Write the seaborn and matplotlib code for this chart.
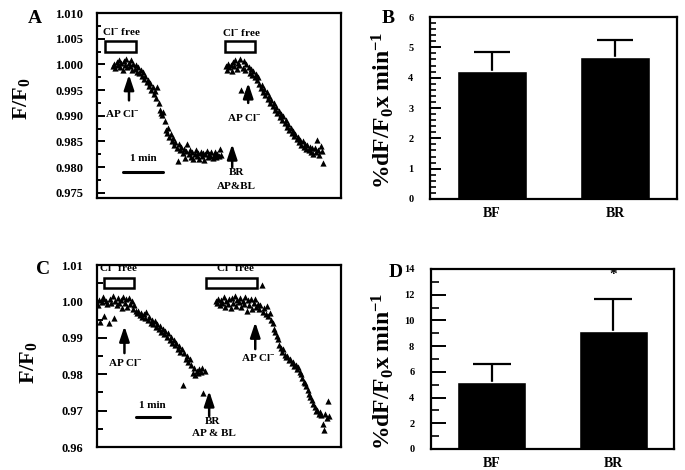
import numpy as np
import pandas as pd
import matplotlib
matplotlib.use("Agg")
import matplotlib.pyplot as plt
import matplotlib.patches as patches
from matplotlib.ticker import MultipleLocator
import seaborn as sns

# ---- panel A traces (time in min, F/F0) ----
a1_t = [0.40, 0.43, 0.46, 0.49, 0.52, 0.55, 0.58, 0.61, 0.64, 0.67,
        0.70, 0.73, 0.76, 0.79, 0.82, 0.85, 0.88, 0.91, 0.94, 0.97,
        1.00, 1.03, 1.06, 1.09, 1.12, 1.15, 1.18, 1.21, 1.24, 1.27,
        1.30, 1.33, 1.36, 1.39, 1.42, 1.45, 1.48, 1.51, 1.54, 1.57,
        1.60, 1.63, 1.66, 1.69, 1.72, 1.75, 1.78, 1.81, 1.84, 1.87,
        1.90, 1.93, 1.96, 1.99, 2.02, 2.05, 2.08, 2.11, 2.14, 2.17,
        2.20, 2.23, 2.26, 2.29, 2.32, 2.35, 2.38, 2.41, 2.44, 2.47,
        2.50, 2.53, 2.56, 2.59, 2.62, 2.65, 2.68, 2.71, 2.74, 2.77,
        2.80, 2.83, 2.86, 2.89, 2.92, 2.95, 2.98, 3.01, 3.04, 3.07,
        3.10]
a1_y = [0.9996, 1.0001, 0.9993, 1.0004, 0.9998, 1.0008, 0.9995, 1.0002, 0.9990, 1.0006,
        0.9999, 1.0011, 0.9994, 1.0003, 0.9997, 1.0009, 0.9989, 1.0001, 0.9992, 0.9998,
        0.9986, 0.9994, 0.9983, 0.9990, 0.9978, 0.9985, 0.9972, 0.9977, 0.9965, 0.9970,
        0.9958, 0.9963, 0.9950, 0.9956, 0.9943, 0.9949, 0.9935, 0.9956, 0.9925, 0.9912,
        0.9906, 0.9902, 0.9908, 0.9890, 0.9872, 0.9866, 0.9876, 0.9858, 0.9864, 0.9851,
        0.9857, 0.9843, 0.9849, 0.9838, 0.9812, 0.9845, 0.9833, 0.9840, 0.9828, 0.9836,
        0.9818, 0.9831, 0.9846, 0.9825, 0.9834, 0.9819, 0.9829, 0.9815, 0.9826, 0.9833,
        0.9821, 0.9828, 0.9816, 0.9830, 0.9822, 0.9827, 0.9814, 0.9825, 0.9831, 0.9819,
        0.9826, 0.9822, 0.9829, 0.9817, 0.9824, 0.9830, 0.9820, 0.9826, 0.9821, 0.9836,
        0.9823]
a2_t = [3.22, 3.25, 3.28, 3.31, 3.34, 3.37, 3.40, 3.43, 3.46, 3.49,
        3.52, 3.55, 3.58, 3.61, 3.64, 3.67, 3.70, 3.73, 3.76, 3.79,
        3.82, 3.85, 3.88, 3.91, 3.94, 3.97, 4.00, 4.03, 4.06, 4.09,
        4.12, 4.15, 4.18, 4.21, 4.24, 4.27, 4.30, 4.33, 4.36, 4.39,
        4.42, 4.45, 4.48, 4.51, 4.54, 4.57, 4.60, 4.63, 4.66, 4.69,
        4.72, 4.75, 4.78, 4.81, 4.84, 4.87, 4.90, 4.93, 4.96, 4.99,
        5.02, 5.05, 5.08, 5.11, 5.14, 5.17, 5.20, 5.23, 5.26, 5.29,
        5.32, 5.35, 5.38, 5.41, 5.44, 5.47, 5.50, 5.53, 5.56, 5.59,
        5.62, 5.65]
a2_y = [0.9996, 0.9990, 1.0001, 0.9994, 0.9999, 0.9987, 1.0004, 0.9996, 1.0009, 0.9992,
        1.0002, 0.9998, 1.0011, 0.9951, 0.9993, 1.0006, 0.9989, 1.0000, 0.9950, 0.9994,
        0.9984, 0.9991, 0.9980, 0.9987, 0.9975, 0.9982, 0.9969, 0.9976, 0.9962, 0.9955,
        0.9960, 0.9947, 0.9953, 0.9940, 0.9946, 0.9932, 0.9938, 0.9925, 0.9931, 0.9919,
        0.9924, 0.9911, 0.9917, 0.9905, 0.9910, 0.9898, 0.9903, 0.9892, 0.9899, 0.9886,
        0.9891, 0.9879, 0.9884, 0.9872, 0.9877, 0.9866, 0.9870, 0.9860, 0.9864, 0.9855,
        0.9858, 0.9849, 0.9853, 0.9844, 0.9851, 0.9840, 0.9846, 0.9836, 0.9843, 0.9833,
        0.9840, 0.9829, 0.9837, 0.9826, 0.9838, 0.9830, 0.9852, 0.9833, 0.9824, 0.9841,
        0.9832, 0.9808]

# ---- panel C traces ----
c1_t = [0.00, 0.04, 0.08, 0.12, 0.16, 0.20, 0.24, 0.28, 0.32, 0.36,
        0.40, 0.44, 0.48, 0.52, 0.56, 0.60, 0.64, 0.68, 0.72, 0.76,
        0.80, 0.84, 0.88, 0.92, 0.96, 1.00, 1.04, 1.08, 1.12, 1.16,
        1.20, 1.24, 1.28, 1.32, 1.36, 1.40, 1.44, 1.48, 1.52, 1.56,
        1.60, 1.64, 1.68, 1.72, 1.76, 1.80, 1.84, 1.88, 1.92, 1.96,
        2.00, 2.04, 2.08, 2.12, 2.16, 2.20, 2.24, 2.28, 2.32, 2.36,
        2.40, 2.44, 2.48, 2.52, 2.56, 2.60, 2.64, 2.68, 2.72, 2.76,
        2.80, 2.84, 2.88, 2.92, 2.96, 3.00, 3.04, 3.08, 3.12, 3.16]
c1_y = [0.9990, 1.0005, 0.9943, 0.9998, 1.0012, 0.9960, 1.0002, 0.9992, 0.9940, 1.0008,
        0.9996, 1.0015, 0.9955, 1.0001, 0.9989, 1.0010, 0.9995, 1.0004, 0.9983, 1.0013,
        0.9997, 1.0006, 0.9986, 1.0009, 0.9993, 1.0002, 0.9980, 0.9991, 0.9975, 0.9968,
        0.9974, 0.9963, 0.9969, 0.9958, 0.9966, 0.9955, 0.9972, 0.9949, 0.9957, 0.9942,
        0.9950, 0.9938, 0.9945, 0.9931, 0.9939, 0.9924, 0.9932, 0.9917, 0.9924, 0.9910,
        0.9918, 0.9903, 0.9912, 0.9895, 0.9903, 0.9887, 0.9895, 0.9879, 0.9886, 0.9870,
        0.9878, 0.9860, 0.9868, 0.9771, 0.9858, 0.9842, 0.9850, 0.9833, 0.9841, 0.9825,
        0.9804, 0.9818, 0.9797, 0.9810, 0.9802, 0.9815, 0.9806, 0.9818, 0.9748, 0.9810]
c2_t = [3.48, 3.52, 3.56, 3.60, 3.64, 3.68, 3.72, 3.76, 3.80, 3.84,
        3.88, 3.92, 3.96, 4.00, 4.04, 4.08, 4.12, 4.16, 4.20, 4.24,
        4.28, 4.32, 4.36, 4.40, 4.44, 4.48, 4.52, 4.56, 4.60, 4.64,
        4.68, 4.72, 4.76, 4.80, 4.84, 4.88, 4.92, 4.96, 5.00, 5.04,
        5.08, 5.12, 5.16, 5.20, 5.24, 5.28, 5.32, 5.36, 5.40, 5.44,
        5.48, 5.52, 5.56, 5.60, 5.64, 5.68, 5.72, 5.76, 5.80, 5.84,
        5.88, 5.92, 5.96, 6.00, 6.04, 6.08, 6.12, 6.16, 6.20, 6.24,
        6.28, 6.32, 6.36, 6.40, 6.44, 6.48, 6.52, 6.56, 6.60, 6.64,
        6.68, 6.72, 6.76, 6.80, 6.84]
c2_y = [1.0002, 0.9995, 1.0008, 0.9990, 1.0003, 0.9997, 1.0011, 0.9986, 1.0000, 0.9993,
        1.0006, 0.9982, 1.0009, 0.9996, 1.0014, 0.9988, 1.0004, 0.9999, 1.0010, 0.9984,
        1.0002, 0.9994, 1.0012, 0.9974, 1.0005, 0.9991, 1.0008, 0.9980, 0.9997, 1.0006,
        0.9985, 0.9993, 0.9978, 0.9990, 1.0044, 0.9972, 0.9983, 0.9966, 0.9988, 0.9960,
        0.9968, 0.9950, 0.9940, 0.9925, 0.9915, 0.9905, 0.9897, 0.9880, 0.9872, 0.9862,
        0.9868, 0.9853, 0.9846, 0.9850, 0.9838, 0.9842, 0.9830, 0.9834, 0.9822, 0.9826,
        0.9815, 0.9819, 0.9806, 0.9800, 0.9790, 0.9779, 0.9775, 0.9768, 0.9757, 0.9745,
        0.9738, 0.9728, 0.9718, 0.9710, 0.9698, 0.9702, 0.9691, 0.9697, 0.9688, 0.9664,
        0.9646, 0.9692, 0.9680, 0.9727, 0.9685]

# ---- bar panels B and D ----
groups = ["BF", "BR"]
b_mean = [4.22, 4.68]
b_sem = [0.62, 0.56]
d_mean = [5.2, 9.2]
d_sem = [1.4, 2.5]

sns.set_style("ticks")
plt.rcParams["font.family"] = ["Liberation Serif", "DejaVu Serif"]
plt.rcParams["font.weight"] = "bold"
plt.rcParams["text.color"] = "black"
plt.rcParams["axes.labelcolor"] = "black"
plt.rcParams["xtick.color"] = "black"
plt.rcParams["ytick.color"] = "black"
plt.rcParams["axes.edgecolor"] = "black"
plt.rcParams["mathtext.fontset"] = "custom"
plt.rcParams["mathtext.rm"] = "Liberation Serif:bold"
plt.rcParams["mathtext.it"] = "Liberation Serif:bold"
plt.rcParams["mathtext.bf"] = "Liberation Serif:bold"
plt.rcParams["mathtext.default"] = "rm"

fig = plt.figure(figsize=(6.85, 4.70), dpi=100)
axA = fig.add_axes([0.1416, 0.5787, 0.3562, 0.3936])
axC = fig.add_axes([0.1416, 0.0489, 0.3562, 0.3872])
axB = fig.add_axes([0.6277, 0.5766, 0.3606, 0.3872])
axD = fig.add_axes([0.6292, 0.0447, 0.3547, 0.3830])

for ax in [axA, axB, axC, axD]:
    for s in ax.spines.values():
        s.set_linewidth(1.6)
        s.set_color("k")
        s.set_visible(True)


def arrow(ax, x, y0, y1):
    ax.annotate("", xy=(x, y1), xytext=(x, y0),
                arrowprops=dict(arrowstyle="-|>,head_width=0.3,head_length=0.9",
                                lw=1.8, color="k", shrinkA=0, shrinkB=0,
                                mutation_scale=10))


def box(ax, x0, x1, y0, y1):
    ax.add_patch(patches.Rectangle((x0, y0), x1 - x0, y1 - y0, facecolor="white",
                                   edgecolor="k", lw=1.8, zorder=3))


cl = r"Cl$^{-}$"

# ---- A ----
for t, y in [(a1_t, a1_y), (a2_t, a2_y)]:
    sns.scatterplot(x=t, y=y, marker="^", s=20, color="k", linewidth=0, ax=axA)
axA.set_xlim(0, 6.1)
axA.set_ylim(0.9740, 1.0100)
axA.set_xticks([])
axA.yaxis.set_major_locator(MultipleLocator(0.005))
axA.yaxis.set_minor_locator(MultipleLocator(0.0025))
axA.yaxis.set_major_formatter(plt.FormatStrFormatter("%.3f"))
axA.tick_params(axis="y", which="major", direction="in", length=6, width=1.4, pad=10, labelsize=9)
axA.tick_params(axis="y", which="minor", direction="in", length=3, width=1.4)
box(axA, 0.2, 0.975, 1.0024, 1.0045)
box(axA, 3.2, 3.95, 1.0024, 1.0045)
axA.text(0.6, 1.0065, cl + " free", ha="center", va="center", fontsize=8)
axA.text(3.6, 1.0062, cl + " free", ha="center", va="center", fontsize=8)
arrow(axA, 0.8, 0.9930, 0.9980)
arrow(axA, 3.78, 0.9925, 0.9964)
arrow(axA, 3.38, 0.9800, 0.9845)
axA.text(0.63, 0.9905, "AP " + cl, ha="center", va="center", fontsize=8)
axA.text(3.68, 0.9896, "AP " + cl, ha="center", va="center", fontsize=8)
axA.text(3.48, 0.9789, "BR", ha="center", va="center", fontsize=8)
axA.text(3.48, 0.9762, "AP&BL", ha="center", va="center", fontsize=8)
axA.plot([0.65, 1.65], [0.9791, 0.9791], color="k", lw=2.2)
axA.text(1.15, 0.9816, "1 min", ha="center", va="center", fontsize=8)

# ---- C ----
for t, y in [(c1_t, c1_y), (c2_t, c2_y)]:
    sns.scatterplot(x=t, y=y, marker="^", s=20, color="k", linewidth=0, ax=axC)
axC.set_xlim(-0.02, 7.18)
axC.set_ylim(0.96, 1.01)
axC.set_xticks([])
axC.yaxis.set_major_locator(MultipleLocator(0.01))
axC.yaxis.set_minor_locator(MultipleLocator(0.005))
axC.yaxis.set_major_formatter(plt.FormatStrFormatter("%.2f"))
axC.tick_params(axis="y", which="major", direction="in", length=7, width=1.4, pad=10, labelsize=9)
axC.tick_params(axis="y", which="minor", direction="in", length=4, width=1.4)
box(axC, 0.18, 1.06, 1.0037, 1.0064)
box(axC, 3.21, 4.71, 1.0037, 1.0064)
axC.text(0.62, 1.0092, cl + " free", ha="center", va="center", fontsize=8)
axC.text(4.06, 1.0092, cl + " free", ha="center", va="center", fontsize=8)
arrow(axC, 0.79, 0.9858, 0.9932)
arrow(axC, 4.65, 0.9869, 0.9943)
arrow(axC, 3.29, 0.9685, 0.9754)
axC.text(0.82, 0.9831, "AP " + cl, ha="center", va="center", fontsize=8)
axC.text(4.74, 0.9845, "AP " + cl, ha="center", va="center", fontsize=8)
axC.text(3.38, 0.9669, "BR", ha="center", va="center", fontsize=8)
axC.text(3.44, 0.9638, "AP & BL", ha="center", va="center", fontsize=8)
axC.plot([1.12, 2.12], [0.9682, 0.9682], color="k", lw=2.2)
axC.text(1.62, 0.9715, "1 min", ha="center", va="center", fontsize=8)

# ---- B and D ----
for ax, means, sems, top, major, minor, lmaj, lmin, cap in [
        (axB, b_mean, b_sem, 6, 1, 0.2, 8, 4, 13),
        (axD, d_mean, d_sem, 14, 2, 1, 11, 6, 14)]:
    sns.barplot(x=groups, y=means, color="black", saturation=1, width=0.57,
                errorbar=None, ax=ax, zorder=2)
    eb = ax.errorbar([0, 1], means, yerr=[[0, 0], sems], fmt="none", ecolor="k",
                     elinewidth=1.6, capsize=cap, capthick=1.6, zorder=1)
    eb.lines[1][0].set_visible(False)  # only the upper cap
    ax.set_xlim(-0.5, 1.5)
    ax.set_ylim(0, top)
    ax.set_xlabel("")
    ax.set_ylabel("")
    ax.yaxis.set_major_locator(MultipleLocator(major))
    ax.yaxis.set_minor_locator(MultipleLocator(minor))
    ax.tick_params(axis="y", which="major", direction="in", length=lmaj, width=1.4,
                   pad=12, labelsize=7.5)
    ax.tick_params(axis="y", which="minor", direction="in", length=lmin, width=1.2)
    ax.tick_params(axis="x", length=0, pad=6, labelsize=10)

axD.text(1, 13.6, "*", ha="center", va="center", fontsize=11)

# labels
fig.text(0.051, 0.96, "A", fontsize=14, ha="center", va="center")
fig.text(0.566, 0.96, "B", fontsize=14, ha="center", va="center")
fig.text(0.063, 0.426, "C", fontsize=14, ha="center", va="center")
fig.text(0.577, 0.421, "D", fontsize=14, ha="center", va="center")
fig.text(0.031, 0.79, r"F/F$_0$", fontsize=16, rotation=90, ha="center", va="center")
fig.text(0.041, 0.228, r"F/F$_0$", fontsize=16, rotation=90, ha="center", va="center")
fig.text(0.559, 0.765, r"%dF/F$_0$x min$^{-1}$", fontsize=17, rotation=90,
         ha="center", va="center")
fig.text(0.559, 0.21, r"%dF/F$_0$x min$^{-1}$", fontsize=17, rotation=90,
         ha="center", va="center")

fig.savefig("out.png", dpi=100)
